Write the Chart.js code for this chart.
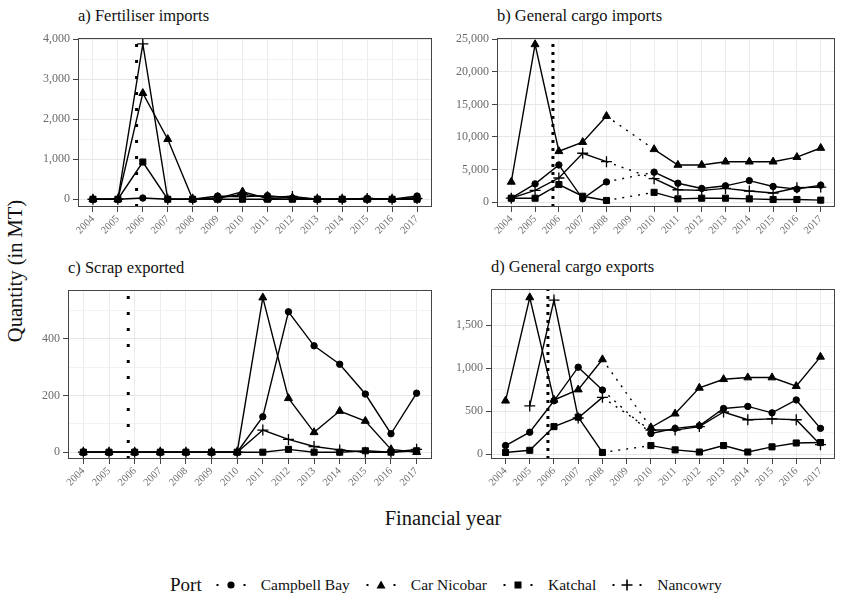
<!DOCTYPE html>
<html>
<head>
<meta charset="utf-8">
<script src="https://cdn.jsdelivr.net/npm/chart.js@4/dist/chart.umd.min.js"></script>
<style>
  body { margin: 0; background: #fff; width: 850px; height: 597px; position: relative; overflow: hidden;
         font-family: "Liberation Serif", serif; color: #111; }
  canvas { position: absolute; }
  .ptitle { position: absolute; font-size: 16.5px; line-height: 1; white-space: nowrap; }
  #ytitle { position: absolute; left: 15px; top: 271px; font-size: 20.5px; white-space: nowrap;
            transform: translate(-50%, -50%) rotate(-90deg); }
  #xtitle { position: absolute; left: 443px; top: 518px; font-size: 20.5px; white-space: nowrap;
            transform: translate(-50%, -50%); }
  #legend { position: absolute; left: 170px; top: 585px; display: flex; align-items: center;
            transform: translateY(-50%); font-family: "Liberation Serif", serif;
            font-size: 15.5px; white-space: nowrap; }
  #legend .lt { font-size: 19px; margin-right: 14px; }
  #legend svg { margin-right: 15px; }
  #legend span.it { margin-right: 16px; }
</style>
</head>
<body>
<div class="ptitle" style="left:78px;top:8px">a) Fertiliser imports</div>
<div class="ptitle" style="left:497px;top:8px">b) General cargo imports</div>
<div class="ptitle" style="left:68px;top:260px">c) Scrap exported</div>
<div class="ptitle" style="left:491px;top:259px">d) General cargo exports</div>
<div id="ytitle">Quantity (in MT)</div>
<div id="xtitle">Financial year</div>
<div id="legend"></div>

<canvas id="panelA" width="410" height="222" style="left:30px;top:28px"></canvas>
<canvas id="panelB" width="400" height="222" style="left:450px;top:28px"></canvas>
<canvas id="panelC" width="410" height="222" style="left:30px;top:280px"></canvas>
<canvas id="panelD" width="400" height="222" style="left:450px;top:279px"></canvas>

<script>
// financial years on the x axis
const years = [2004, 2005, 2006, 2007, 2008, 2009, 2010, 2011, 2012, 2013, 2014, 2015, 2016, 2017];
// dotted reference line (between FY 2005 and 2006)
const eventYear = 2005.75;

const ports = ["Campbell Bay", "Car Nicobar", "Katchal", "Nancowry"];

// a) Fertiliser imports
const fertCampbellBay = [0, 0, 30, 0, 0, 80, 60, 90, 30, 0, 0, 20, 0, 80];
const fertCarNicobar  = [0, 0, 2650, 1500, 0, 20, 190, 20, 40, 0, 0, 10, 0, 40];
const fertKatchal     = [0, 0, 930, 0, 0, 0, 0, 0, 0, 0, 0, 0, 0, 0];
const fertNancowry    = [0, 0, 3880, 0, 0, 30, 120, 60, 70, 0, 0, 20, 0, 20];

// b) General cargo imports (no data for 2009)
const impCampbellBay = [600, 2800, 5700, 500, 3100, null, 4600, 2900, 2100, 2500, 3300, 2400, 2000, 2600];
const impCarNicobar  = [3100, 24200, 7800, 9200, 13200, null, 8100, 5700, 5700, 6200, 6200, 6200, 6900, 8300];
const impKatchal     = [600, 600, 2700, 900, 250, null, 1500, 500, 600, 600, 500, 400, 400, 300];
const impNancowry    = [600, 1800, 3700, 7500, 6200, null, 3600, 1900, 1800, 2100, 1700, 1400, 2200, 2300];

// c) Scrap exported
const scrapCampbellBay = [0, 0, 0, 0, 0, 0, 0, 125, 495, 375, 310, 205, 65, 208];
const scrapCarNicobar  = [0, 0, 0, 0, 0, 0, 0, 545, 190, 70, 145, 110, 10, 0];
const scrapKatchal     = [0, 0, 0, 0, 0, 0, 0, 0, 10, 0, 0, 5, 0, 5];
const scrapNancowry    = [0, 0, 0, 0, 0, 0, 0, 78, 45, 20, 8, 0, 0, 10];

// d) General cargo exports (no data for 2009)
const expCampbellBay = [100, 255, 620, 1010, 745, null, 240, 300, 330, 530, 555, 480, 630, 300];
const expCarNicobar  = [620, 1820, 630, 750, 1100, null, 310, 470, 770, 870, 890, 890, 790, 1130];
const expKatchal     = [20, 45, 320, 430, 20, null, 100, 50, 25, 100, 25, 85, 130, 135];
const expNancowry    = [null, 560, 1790, 420, 660, null, 280, 280, 320, 490, 400, 410, 400, 110];

// y ticks per panel
const fertMajor = [0, 1000, 2000, 3000, 4000], fertMinor = [500, 1500, 2500, 3500];
const impMajor = [0, 5000, 10000, 15000, 20000, 25000], impMinor = [2500, 7500, 12500, 17500, 22500];
const scrapMajor = [0, 200, 400], scrapMinor = [100, 300, 500];
const expMajor = [0, 500, 1000, 1500], expMinor = [250, 750, 1250, 1750];

const markers = {
  "Campbell Bay": { pointStyle: "circle", pointRadius: 3.2 },
  "Car Nicobar":  { pointStyle: "triangle", pointRadius: 4.6 },
  "Katchal":      { pointStyle: "rect", pointRadius: 4.3 },
  "Nancowry":     { pointStyle: "cross", pointRadius: 5.5 }
};

const gapDash = (ctx, v) => (ctx.p0.skip || ctx.p1.skip) ? v : undefined;

const borderPlugin = {
  id: "panelBorder",
  afterDraw(chart) {
    const a = chart.chartArea, c = chart.ctx;
    c.save();
    c.strokeStyle = "#444";
    c.lineWidth = 1;
    c.strokeRect(Math.round(a.left) + 0.5, Math.round(a.top) + 0.5,
                 Math.round(a.right - a.left) - 1, Math.round(a.bottom - a.top) - 1);
    c.restore();
  }
};

function makePanel(id, series, yMin, yMax, major, minor, o) {
  const datasets = ports.map((p, i) => ({
    label: p,
    data: years.map((y, j) => ({ x: y, y: series[i][j] })),
    borderColor: "#000",
    backgroundColor: "#000",
    borderWidth: 1.4,
    pointBorderWidth: p === "Nancowry" ? 1.3 : 1,
    spanGaps: true,
    segment: { borderDash: ctx => gapDash(ctx, [2, 6]) },
    ...markers[p]
  }));
  datasets.push({
    label: "event",
    data: [{ x: eventYear, y: yMin }, { x: eventYear, y: yMax }],
    borderColor: "#000",
    borderWidth: 3,
    borderDash: o.vDash,
    pointRadius: 0
  });

  const isMajor = v => major.includes(v);
  new Chart(document.getElementById(id), {
    type: "line",
    data: { datasets },
    plugins: [borderPlugin],
    options: {
      responsive: false,
      animation: false,
      layout: { padding: { top: 5, right: o.padRight, left: 0, bottom: 0 } },
      plugins: { legend: { display: false }, tooltip: { enabled: false } },
      scales: {
        x: {
          type: "linear",
          min: 2003.4, max: 2017.6,
          afterBuildTicks: s => { s.ticks = years.map(v => ({ value: v })); },
          afterFit: s => { s.height = o.xH; },
          border: { display: false },
          grid: { color: "#ebebeb", tickColor: "#444", tickLength: 5 },
          ticks: {
            autoSkip: false, minRotation: 45, maxRotation: 45, padding: 1,
            color: "#6b6b6b", font: { family: "Liberation Serif", size: 10.5 },
            callback: v => String(v)
          }
        },
        y: {
          min: yMin, max: yMax,
          afterBuildTicks: s => {
            s.ticks = major.concat(minor).filter(v => v >= yMin && v <= yMax)
              .sort((a, b) => a - b).map(v => ({ value: v }));
          },
          afterFit: s => { s.width = o.yW; },
          border: { display: false },
          grid: {
            color: ctx => isMajor(ctx.tick.value) ? "#e6e6e6" : "#f2f2f2",
            tickColor: ctx => isMajor(ctx.tick.value) ? "#444" : "rgba(0,0,0,0)",
            tickLength: 5
          },
          ticks: {
            padding: 3, color: "#6b6b6b", font: { family: "Liberation Serif", size: 12 },
            callback: v => isMajor(v) ? v.toLocaleString("en-US") : ""
          }
        }
      }
    }
  });
}

makePanel("panelA", [fertCampbellBay, fertCarNicobar, fertKatchal, fertNancowry],
  -194, 4024, fertMajor, fertMinor, { yW: 48, xH: 43, padRight: 8, vDash: [3, 13] });
makePanel("panelB", [impCampbellBay, impCarNicobar, impKatchal, impNancowry],
  -750, 25150, impMajor, impMinor, { yW: 47, xH: 43, padRight: 15, vDash: [3, 5] });
makePanel("panelC", [scrapCampbellBay, scrapCarNicobar, scrapKatchal, scrapNancowry],
  -24, 571, scrapMajor, scrapMinor, { yW: 38, xH: 43, padRight: 8, vDash: [3, 13] });
makePanel("panelD", [expCampbellBay, expCarNicobar, expKatchal, expNancowry],
  -56, 1916, expMajor, expMinor, { yW: 41, xH: 42, padRight: 15, vDash: [3, 5] });

// shared legend
const keyShapes = {
  "Campbell Bay": '<circle cx="15" cy="7" r="3.6"/>',
  "Car Nicobar": '<polygon points="15,2.5 19.5,10.5 10.5,10.5"/>',
  "Katchal": '<rect x="11.5" y="3.5" width="7" height="7"/>',
  "Nancowry": '<path d="M15 1.5V12.5M9.5 7H20.5" stroke="#000" stroke-width="1.6"/>'
};
let html = '<span class="lt">Port</span>';
ports.forEach(p => {
  html += '<svg width="30" height="14" viewBox="0 0 30 14">' +
    '<rect x="0.5" y="6" width="2" height="2"/><rect x="27.5" y="6" width="2" height="2"/>' +
    keyShapes[p] + '</svg><span class="it">' + p + '</span>';
});
document.getElementById("legend").innerHTML = html;
</script>
</body>
</html>
